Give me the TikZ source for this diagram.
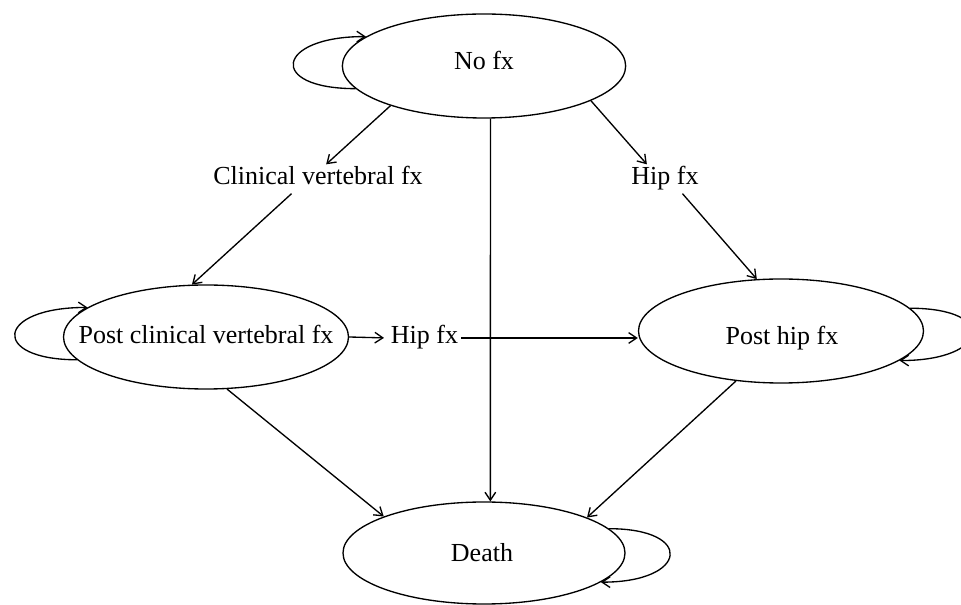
\documentclass[tikz,border=0pt]{standalone}
\usepackage{fontspec}
\setmainfont{Liberation Serif}
\usetikzlibrary{arrows.meta,shapes.geometric}
\begin{document}
\begin{tikzpicture}[x=0.75pt,y=-0.75pt,
  stateell/.style={draw, ellipse, line width=1pt, inner sep=0pt, minimum width=212.5pt, minimum height=78pt},
  txt/.style={font=\fontsize{19.5}{23}\selectfont, inner sep=2pt, text height=13.3pt, text depth=4.3pt, anchor=base},
  arr/.style={-{Straight Barb[length=6pt,width=8pt]}, line width=1pt}]
\useasboundingbox (0,0) rectangle (961,605);
\node[stateell] (nofx) at (484,66) {};
\node[stateell, minimum width=213.75pt] (pcv) at (206,337) {};
\node[stateell, minimum width=213.75pt] (php) at (781,331) {};
\node[stateell, minimum width=211.5pt, minimum height=76.5pt] (death) at (484,553) {};
\node[txt] (nofxt) at (484,70) {No fx};
\node[txt] (pcvt) at (206,344) {Post clinical vertebral fx};
\node[txt] (phpt) at (782,345) {Post hip fx};
\node[txt] (deatht) at (482,562) {Death};
\node[txt] (cvf) at (318,185) {Clinical vertebral fx};
\node[txt] (hipt) at (665,185) {Hip fx};
\node[txt] (hipm) at (424.5,344) {Hip fx};
\draw[arr] (nofx.203) -- (cvf.61);
\draw[arr] (cvf.209) -- (pcv.105);
\draw[arr] (nofx.342) -- (hipt.141);
\draw[arr] (hipt.320) -- (php.115);
\draw[arr] (nofx.277) -- (death.83);
\draw[arr, shorten >=3pt] (pcv.east) -- (hipm.west);
\draw[arr] (hipm.east) -- (hipm.east -| php.west);
\draw[arr] (pcv.292) -- (death.160);
\draw[arr] (php.228) -- (death.19);
\draw[arr] (nofx.190) .. controls +(-89,0) and +(-90,0) .. (nofx.166);
\draw[arr] (pcv.190) .. controls +(-87,0) and +(-92,0) .. (pcv.166);
\draw[arr] (php.10) .. controls +(89,0) and +(90,0) .. (php.346);
\draw[arr] (death.11) .. controls +(86,0) and +(87,0) .. (death.346);
\end{tikzpicture}
\end{document}
